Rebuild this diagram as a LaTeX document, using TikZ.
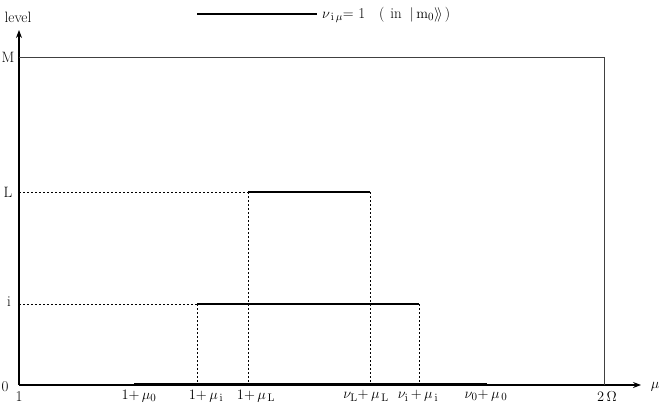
\documentclass[tikz,border=0pt]{standalone}
\usetikzlibrary{arrows.meta}
\begin{document}
\begin{tikzpicture}[x=1pt,y=-1pt,
  axis/.style={line width=1.1pt,-{Stealth[length=8pt,width=6pt]}},
  thin/.style={line width=0.7pt,black!75},
  thick/.style={line width=2.2pt},
  dot/.style={line width=0.9pt,dash pattern=on 2pt off 2pt},
  lab/.style={font=\fontsize{15}{17}\selectfont,inner sep=0pt}]
\useasboundingbox (0,0) rectangle (663,409);
% axes
\coordinate (O) at (19,385);
\coordinate (ytip) at (19,30);
\coordinate (xtip) at (641,385);
\draw[axis] (O) -- (ytip);
\draw[axis] (O) -- (xtip);
% M box
\coordinate (Ml) at (19,57);
\coordinate (Mr) at (604,57);
\coordinate (Mb) at (604,385);
\draw[thin] (Ml) -- (Mr) -- (Mb);
% levels
\coordinate (a0) at (134,384);
\coordinate (b0) at (487,384);
\coordinate (ai) at (197,304);
\coordinate (bi) at (419,304);
\coordinate (aL) at (248,192);
\coordinate (bL) at (370,192);
\coordinate (yL) at (19,192);
\coordinate (yi) at (19,304);
\coordinate (aib) at (197,385);
\coordinate (bib) at (419,385);
\coordinate (aLb) at (248,385);
\coordinate (bLb) at (370,385);
\draw[dot] (yL) -- (aL);
\draw[dot] (yi) -- (ai);
\draw[dot] (ai) -- (aib);
\draw[dot] (bi) -- (bib);
\draw[dot] (aL) -- (aLb);
\draw[dot] (bL) -- (bLb);
\draw[thick] (a0) -- (b0);
\draw[thick] (ai) -- (bi);
\draw[thick] (aL) -- (bL);
% y labels
\node[lab] (lev) at (18,17) {level};
\node[lab] (lM) at (8,57) {M};
\node[lab] (lL) at (8,192) {L};
\node[lab] (li) at (9,302) {i};
\node[lab] (l0) at (5,387) {0};
% x labels
\node[lab] (x1) at (19,397) {1};
\node[lab] (x2) at (139,396) {$1{+}\,\mu_{0}$};
\node[lab] (x3) at (206,396) {$1{+}\,\mu_{\,\mathrm{i}}$};
\node[lab] (x4) at (256,396) {$1{+}\,\mu_{\,\mathrm{L}}$};
\node[lab] (x5) at (366,396) {$\nu_{\mathrm{L}}{+}\,\mu_{\,\mathrm{L}}$};
\node[lab] (x6) at (418,396) {$\nu_{\mathrm{i}}\,{+}\,\mu_{\,\mathrm{i}}$};
\node[lab] (x7) at (486,396) {$\nu_{0}{+}\,\mu_{\,0}$};
\node[lab] (x8) at (607,397) {$2\,\Omega$};
\node[lab] (xm) at (655,387) {$\mu$};
% legend
\coordinate (g1) at (197,14);
\coordinate (g2) at (317,14);
\draw[thick] (g1) -- (g2);
\node[lab,anchor=west] (leg) at (322,15) {$\nu_{\,\mathrm{i}\,\mu}$= 1\hspace{14pt}(\hspace{6pt}in\hspace{8pt}$|\,\mathrm{m}_0\rangle\!\rangle$\hspace{2pt})};
\end{tikzpicture}
\end{document}
